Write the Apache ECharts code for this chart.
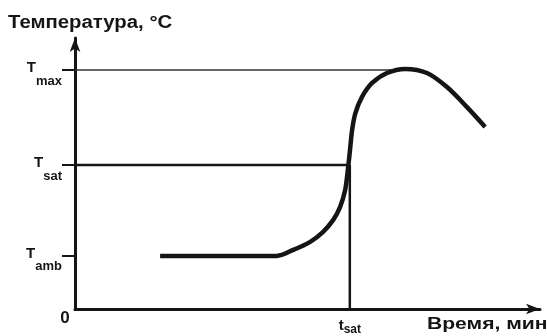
<!DOCTYPE html>
<html><head><meta charset="utf-8">
<script src="https://cdn.jsdelivr.net/npm/echarts@6/dist/echarts.min.js"></script>
<style>html,body{margin:0;padding:0;background:#fff}#c{width:547px;height:336px}</style>
</head><body><div id="c"></div>
<script>
// Relative scale: time 0..100, temperature 0..100
const T_amb = 19.6, T_sat = 53.1, T_max = 88.2;
const t_sat = 59.1;
const yLevels = [T_amb, T_sat, T_max];
const yLevelNames = ['amb', 'sat', 'max'];
const curveTime = [18.3, 43.4, 46.9, 50.5, 53.3, 55.5, 57.0, 58.1, 58.6, 59.1, 59.6, 60.3, 61.7, 63.9, 67.1, 71.0, 75.7, 80.0, 84.3, 88.2];
const curveTemp = [19.6, 19.6, 21.8, 24.7, 28.4, 32.8, 37.6, 43.9, 50.2, 58.0, 66.1, 72.3, 78.2, 83.4, 87.1, 88.6, 87.1, 81.9, 74.5, 67.2];
const tmaxLineEnd = 70;
const yTitle = 'Температура, °C';
const xTitle = 'Время, мин';

const ink = '#151515';
const font = 'Liberation Sans';
const chart = echarts.init(document.getElementById('c'));
const subRich = {
  t: {fontFamily: font, fontSize: 15, color: ink, fontWeight: 'bold'},
  s: {fontFamily: font, fontSize: 13, fontWeight: 'bold', color: ink, padding: [26, 0, 0, 0]},
  x: {fontFamily: font, fontSize: 15, color: ink, fontWeight: 'bold'},
  xs: {fontFamily: font, fontSize: 12, fontWeight: 'bold', color: ink, padding: [8, 0, 0, 0]},
  z: {fontFamily: font, fontSize: 17, fontWeight: 'bold', color: ink, lineHeight: 4, padding: [0, 20, 0, 0]}
};
chart.setOption({
  animation: false,
  graphic: [
    {type: 'text', x: 8, y: 14, scaleX: 1.13, style: {text: yTitle, fontFamily: font, fontSize: 18, fontWeight: 'bold', fill: ink, verticalAlign: 'top'}},
    {type: 'text', x: 427, y: 316, scaleX: 1.24, style: {text: xTitle, fontFamily: font, fontSize: 17, fontWeight: 'bold', fill: ink, verticalAlign: 'top'}}
  ],
  grid: {left: 75, right: 7, top: 38, bottom: 27},
  xAxis: {
    type: 'value', min: 0, max: 100,
    splitLine: {show: false},
    axisLine: {onZero: false, symbol: ['none', 'arrow'], symbolSize: [8, 14], lineStyle: {color: ink, width: 3}},
    axisTick: {show: false},
    axisLabel: {
      customValues: [0, t_sat], margin: 7, rich: subRich,
      formatter: v => v === 0 ? '{z|0}' : '{x|t}{xs|sat}'
    }
  },
  yAxis: {
    type: 'value', min: 0, max: 100,
    splitLine: {show: false},
    axisLine: {onZero: false, symbol: ['none', 'arrow'], symbolSize: [8, 14], lineStyle: {color: ink, width: 3}},
    axisTick: {customValues: yLevels, length: 13, lineStyle: {color: ink, width: 2}},
    axisLabel: {
      customValues: yLevels, margin: 13, rich: subRich, padding: [0, 0, 4, 0],
      formatter: v => '{t|T}{s|' + yLevelNames[yLevels.indexOf(v)] + '}'
    }
  },
  series: [
    {type: 'line', data: [[0, T_max], [tmaxLineEnd, T_max]], symbol: 'none', lineStyle: {color: '#333', width: 1.5}, z: 1},
    {type: 'line', data: [[0, T_sat], [t_sat, T_sat]], symbol: 'none', lineStyle: {color: ink, width: 2.5}, z: 1},
    {type: 'line', data: [[t_sat, 0], [t_sat, T_sat]], symbol: 'none', lineStyle: {color: ink, width: 2.5}, z: 1},
    {type: 'line', data: curveTime.map((x, i) => [x, curveTemp[i]]), symbol: 'none', smooth: 0.3,
     lineStyle: {color: ink, width: 4.5}, z: 3}
  ]
});
</script></body></html>
